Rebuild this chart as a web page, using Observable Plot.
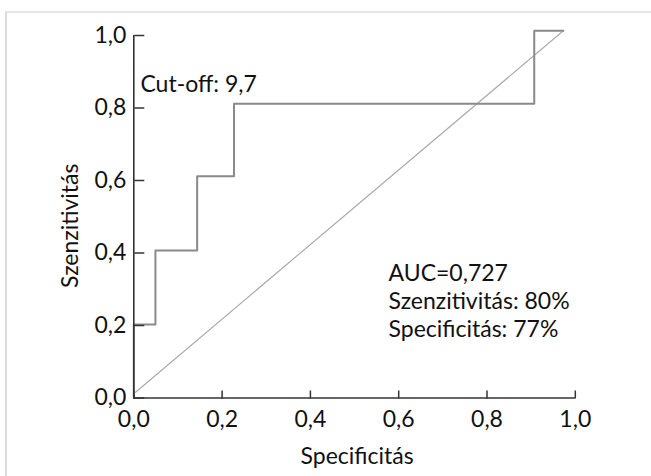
<!DOCTYPE html>
<html>
<head>
<meta charset="utf-8">
<script src="https://cdn.jsdelivr.net/npm/d3@7"></script>
<script src="https://cdn.jsdelivr.net/npm/@observablehq/plot@0.6"></script>
<style>
  html, body { margin: 0; padding: 0; background: #fff; }
  #wrap { position: relative; width: 651px; height: 476px; overflow: hidden; }
  #frame { position: absolute; left: 5px; top: 11px; right: -10px; bottom: -10px;
           border-top: 2px solid #e6e6e6; border-left: 2px solid #dcdcdc; }
  #chart { position: absolute; left: 0; top: 0; }
</style>
</head>
<body>
<div id="wrap"><div id="frame"></div><div id="chart"></div></div>
<script>
// ROC curve (step points): x = specificity axis value as drawn, y = sensitivity
const rocX = [0, 0, 0.049, 0.1435, 0.227, 0.907, 0.973];
const rocY = [0, 0.203, 0.407, 0.612, 0.812, 1.013, 1.013];
// reference diagonal
const diagX = [0.004, 0.973];
const diagY = [0.016, 1.013];

const ticks = [0, 0.2, 0.4, 0.6, 0.8, 1.0];
const tickLabels = ["0,0", "0,2", "0,4", "0,6", "0,8", "1,0"];

const xTitle = "Specificitás";
const yTitle = "Szenzitivitás";
const cutoffLabel = "Cut-off: 9,7";
const statsLines = ["AUC=0,727", "Szenzitivitás: 80%", "Specificitás: 77%"];

const roc = rocX.map((x, i) => ({x, y: rocY[i]}));
const diag = diagX.map((x, i) => ({x, y: diagY[i]}));
const fmt = d => tickLabels[ticks.indexOf(d)];

const axisColor = "#333";
const fs = 23;

const chart = Plot.plot({
  width: 651,
  height: 476,
  marginLeft: 133.3,
  marginRight: 76.2,
  marginTop: 35,
  marginBottom: 78.5,
  style: {fontFamily: "Lato, 'Open Sans', sans-serif", fontSize: fs + "px", color: "#111", background: "transparent"},
  x: {domain: [0, 1]},
  y: {domain: [0, 1]},
  marks: [
    Plot.line(diag, {x: "x", y: "y", stroke: "#ababab", strokeWidth: 1.2, clip: false}),
    Plot.line(roc, {x: "x", y: "y", curve: "step-after", stroke: "#8a8a8a", strokeWidth: 2, clip: false}),
    Plot.ruleX([0], {y1: 0, y2: 1, stroke: axisColor, strokeWidth: 1.6}),
    Plot.ruleY([0], {x1: 0, x2: 1, stroke: axisColor, strokeWidth: 1.6}),
    // inward tick marks
    Plot.axisY({ticks, anchor: "right", frameAnchor: "left", tickSize: 10, tickFormat: () => "", label: null, stroke: axisColor, strokeWidth: 1.5}),
    Plot.axisX({ticks, anchor: "top", frameAnchor: "bottom", tickSize: 8, tickFormat: () => "", label: null, stroke: axisColor, strokeWidth: 1.5}),
    // tick labels
    Plot.axisY({ticks, anchor: "left", tickSize: 0, tickPadding: 7.5, tickFormat: fmt, label: null, fill: "#111", fontSize: fs}),
    Plot.axisX({ticks, anchor: "bottom", tickSize: 0, tickPadding: 13, tickFormat: fmt, label: null, fill: "#111", fontSize: fs}),
    // axis titles
    Plot.text([xTitle], {frameAnchor: "bottom", dx: 2.5, dy: 65.8, textAnchor: "middle", lineAnchor: "bottom", text: d => d, fill: "#111", fontSize: fs}),
    Plot.text([yTitle], {frameAnchor: "left", dx: -56.3, dy: 9, rotate: -90, textAnchor: "middle", lineAnchor: "bottom", text: d => d, fill: "#111", fontSize: fs}),
    // annotations
    Plot.text([cutoffLabel], {x: 0.015, y: 0.844, textAnchor: "start", lineAnchor: "bottom", text: d => d, fill: "#111", fontSize: fs}),
    Plot.text([statsLines.join("\n")], {x: 0.577, y: 0.167, textAnchor: "start", lineAnchor: "bottom", lineHeight: 28 / fs, text: d => d, fill: "#111", fontSize: fs})
  ]
});
document.getElementById("chart").appendChild(chart);
</script>
</body>
</html>
